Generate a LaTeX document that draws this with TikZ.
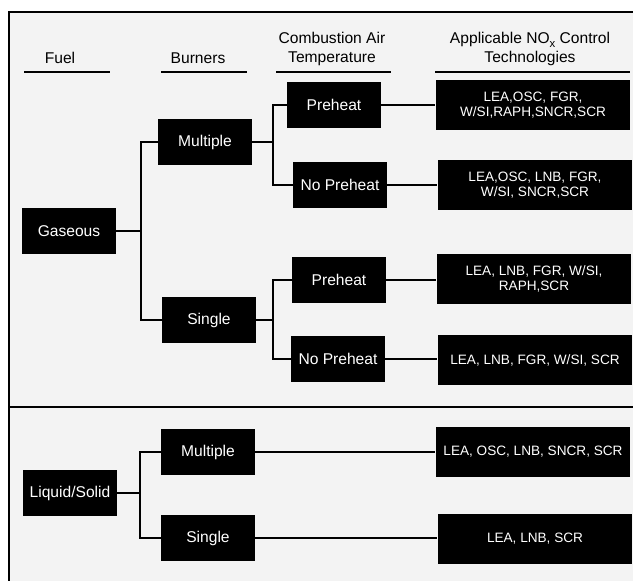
\documentclass[tikz,border=0pt]{standalone}
\usepackage{fontspec}
\setmainfont{Liberation Sans}
\usetikzlibrary{positioning, calc}

\definecolor{panelgray}{HTML}{F3F3F3}

\begin{document}
\begin{tikzpicture}[
    x=0.75pt, y=-0.75pt,
    catbox/.style={rectangle, fill=black, text=white, inner sep=0pt, minimum width=70pt, minimum height=34pt, align=center, font=\fontsize{11.7}{14}\selectfont},
    techbox/.style={rectangle, fill=black, text=white, inner sep=0pt, minimum width=146pt, minimum height=38pt, align=center, font=\fontsize{10.2}{11}\selectfont},
    header/.style={align=center, font=\fontsize{11.7}{14.5}\selectfont},
    rule/.style={draw, line width=1.8pt},
    conn/.style={draw, line width=1.8pt},
    frameline/.style={draw, line width=1.8pt}
  ]
  \useasboundingbox (0,0) rectangle (633,581);
  \fill[white] (0,0) rectangle (633,581);

  % panel
  \fill[panelgray] (9,12) rectangle (660,600);
  \draw[frameline] (9,600) -- (9,12) -- (660,12);
  \draw[frameline] (9,407) -- (660,407);

  % column headers
  \node[header] (hfuel) at (60,58) {Fuel};
  \node[header] (hburn) at (198,58) {Burners};
  \node[header] (htemp) at (332,49) {Combustion Air\\Temperature};
  \node[header] (htech) at (530,49) {Applicable NO\raisebox{-0.55ex}{\fontsize{8.5}{9}\selectfont x} Control\\Technologies};
  \draw[rule] (24,72) -- (110,72);
  \draw[rule] (161,72) -- (247,72);
  \draw[rule] (276,72) -- (391,72);
  \draw[rule] (435,72) -- (630,72);

  % gaseous fuel
  \node[catbox] (gas) at (69,231) {Gaseous};
  \node[catbox] (gm) at (205,142) {Multiple};
  \node[catbox] (gs) at (209,320) {Single};
  \node[catbox] (gmp) at (334,105) {Preheat};
  \node[catbox] (gmn) at (340,185) {No Preheat};
  \node[catbox] (gsp) at (339,280) {Preheat};
  \node[catbox] (gsn) at (338,359) {No Preheat};
  \node[techbox] (t1) at (533,105) {LEA,OSC, FGR,\\W/SI,RAPH,SNCR,SCR};
  \node[techbox] (t2) at (535,185) {LEA,OSC, LNB, FGR,\\W/SI, SNCR,SCR};
  \node[techbox] (t3) at (534,279) {LEA, LNB, FGR, W/SI,\\RAPH,SCR};
  \node[techbox] (t4) at (535,360) {LEA, LNB, FGR, W/SI, SCR};

  \coordinate (jg) at (141,231);
  \coordinate (jgm) at (273,142);
  \coordinate (jgs) at (273,320);
  \draw[conn] (gas.east) -- (jg) |- (gm.west);
  \draw[conn] (jg) |- (gs.west);
  \draw[conn] (gm.east) -- (jgm) |- (gmp.west);
  \draw[conn] (jgm) |- (gmn.west);
  \draw[conn] (gs.east) -- (jgs) |- (gsp.west);
  \draw[conn] (jgs) |- (gsn.west);
  \draw[conn] (gmp.east) -- (gmp.east -| t1.west);
  \draw[conn] (gmn.east) -- (gmn.east -| t2.west);
  \draw[conn] (gsp.east) -- (gsp.east -| t3.west);
  \draw[conn] (gsn.east) -- (gsn.east -| t4.west);

  % liquid/solid fuel
  \node[catbox] (liq) at (70,493) {Liquid/Solid};
  \node[catbox] (lm) at (208,452) {Multiple};
  \node[catbox] (ls) at (208,538) {Single};
  \node[techbox] (t5) at (533,452) {LEA, OSC, LNB, SNCR, SCR};
  \node[techbox] (t6) at (535,539) {LEA, LNB, SCR};

  \coordinate (jl) at (140,493);
  \draw[conn] (liq.east) -- (jl) |- (lm.west);
  \draw[conn] (jl) |- (ls.west);
  \draw[conn] (lm.east) -- (lm.east -| t5.west);
  \draw[conn] (ls.east) -- (ls.east -| t6.west);
\end{tikzpicture}
\end{document}
